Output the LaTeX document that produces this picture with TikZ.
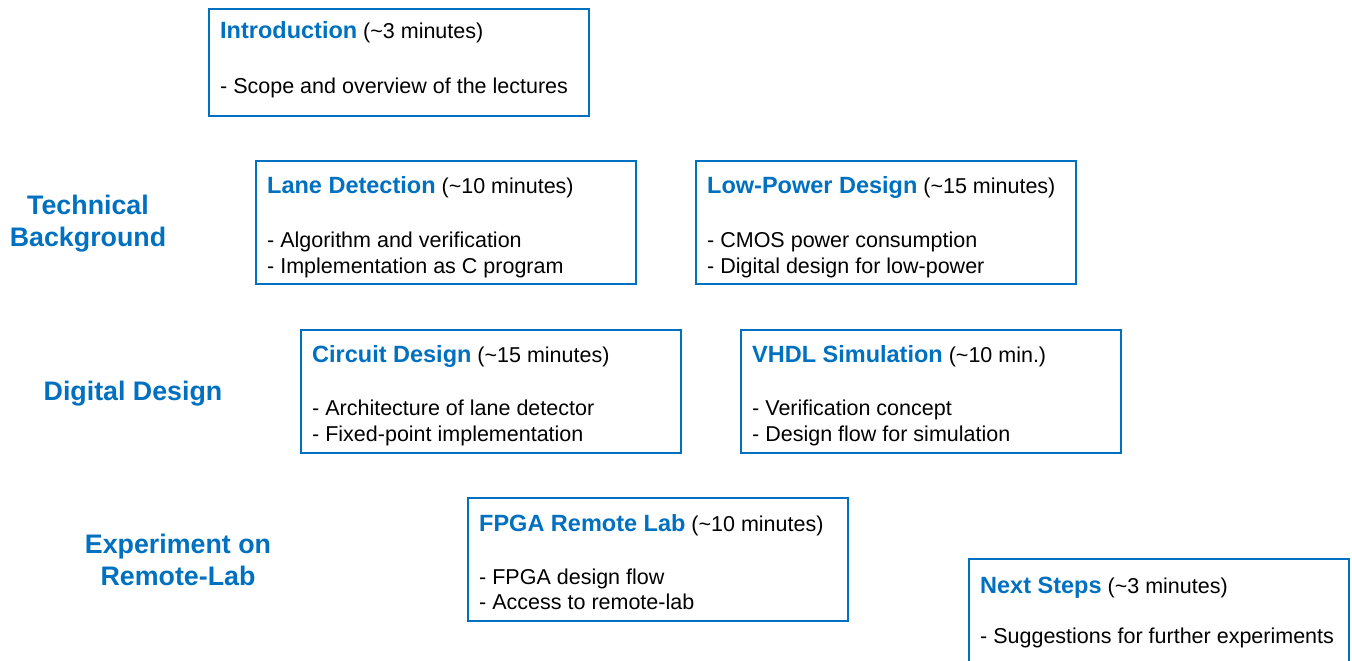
\documentclass[tikz,border=0pt]{standalone}
\usepackage{fontspec}
\setmainfont{Liberation Sans}
\definecolor{tblue}{HTML}{0070C0}
\newcommand\txtfnt{\fontsize{21.5}{26}\selectfont}
\newcommand\ttlfnt{\fontsize{23.5}{28}\selectfont\bfseries}
\newcommand\grpfnt{\fontsize{26.8}{31}\selectfont\bfseries}
\newcommand\ttl[2]{{\ttlfnt\color{tblue}#1} (\textasciitilde#2)}
\begin{document}
\begin{tikzpicture}[x=1pt,y=-1pt,
  box/.style={draw=tblue, line width=1.8pt, minimum width=380pt, minimum height=123pt, anchor=north west, inner sep=0pt, fill=none},
  txt/.style={anchor=base west, inner sep=0pt, font=\txtfnt, text=black},
  grp/.style={anchor=base, inner sep=0pt, font=\grpfnt, text=tblue}]
\useasboundingbox (0,0) rectangle (1352,661);
\fill[white] (0,0) rectangle (1352,661);

% group labels
\node[grp] (g1a) at (88,214) {Technical};
\node[grp] (g1b) at (88,246) {Background};
\node[grp] (g2) at (133,400) {Digital Design};
\node[grp] (g3a) at (178,553) {Experiment on};
\node[grp] (g3b) at (178,585) {Remote-Lab};

% Introduction
\node[box, minimum height=107pt] (intro) at (208,8) {};
\node[txt] (introT) at ([shift={(12,31)}]intro.north west) {\ttl{Introduction}{3 minutes}};
\node[txt] (introB) at ([shift={(12,85)}]intro.north west) {- Scope and overview of the lectures};

% Lane Detection
\node[box] (lane) at (255,160) {};
\node[txt] (laneT) at ([shift={(12,33)}]lane.north west) {\ttl{Lane Detection}{10 minutes}};
\node[txt] (laneB1) at ([shift={(12,87)}]lane.north west) {- Algorithm and verification};
\node[txt] (laneB2) at ([shift={(12,113)}]lane.north west) {- Implementation as C program};

% Low-Power Design
\node[box] (lowp) at (695,160) {};
\node[txt] (lowpT) at ([shift={(12,33)}]lowp.north west) {\ttl{Low-Power Design}{15 minutes}};
\node[txt] (lowpB1) at ([shift={(12,87)}]lowp.north west) {- CMOS power consumption};
\node[txt] (lowpB2) at ([shift={(12,113)}]lowp.north west) {- Digital design for low-power};

% Circuit Design
\node[box] (circ) at (300,329) {};
\node[txt] (circT) at ([shift={(12,33)}]circ.north west) {\ttl{Circuit Design}{15 minutes}};
\node[txt] (circB1) at ([shift={(12,86)}]circ.north west) {- Architecture of lane detector};
\node[txt] (circB2) at ([shift={(12,112)}]circ.north west) {- Fixed-point implementation};

% VHDL Simulation
\node[box] (vhdl) at (740,329) {};
\node[txt] (vhdlT) at ([shift={(12,33)}]vhdl.north west) {\ttl{VHDL Simulation}{10 min.}};
\node[txt] (vhdlB1) at ([shift={(12,86)}]vhdl.north west) {- Verification concept};
\node[txt] (vhdlB2) at ([shift={(12,112)}]vhdl.north west) {- Design flow for simulation};

% FPGA Remote Lab
\node[box] (fpga) at (467,497) {};
\node[txt] (fpgaT) at ([shift={(12,34)}]fpga.north west) {\ttl{FPGA Remote Lab}{10 minutes}};
\node[txt] (fpgaB1) at ([shift={(12,87)}]fpga.north west) {- FPGA design flow};
\node[txt] (fpgaB2) at ([shift={(12,112)}]fpga.north west) {- Access to remote-lab};

% Next Steps
\node[box] (next) at (968,558) {};
\node[txt] (nextT) at ([shift={(12,35)}]next.north west) {\ttl{Next Steps}{3 minutes}};
\node[txt] (nextB) at ([shift={(12,85)}]next.north west) {- Suggestions for further experiments};
\end{tikzpicture}
\end{document}
